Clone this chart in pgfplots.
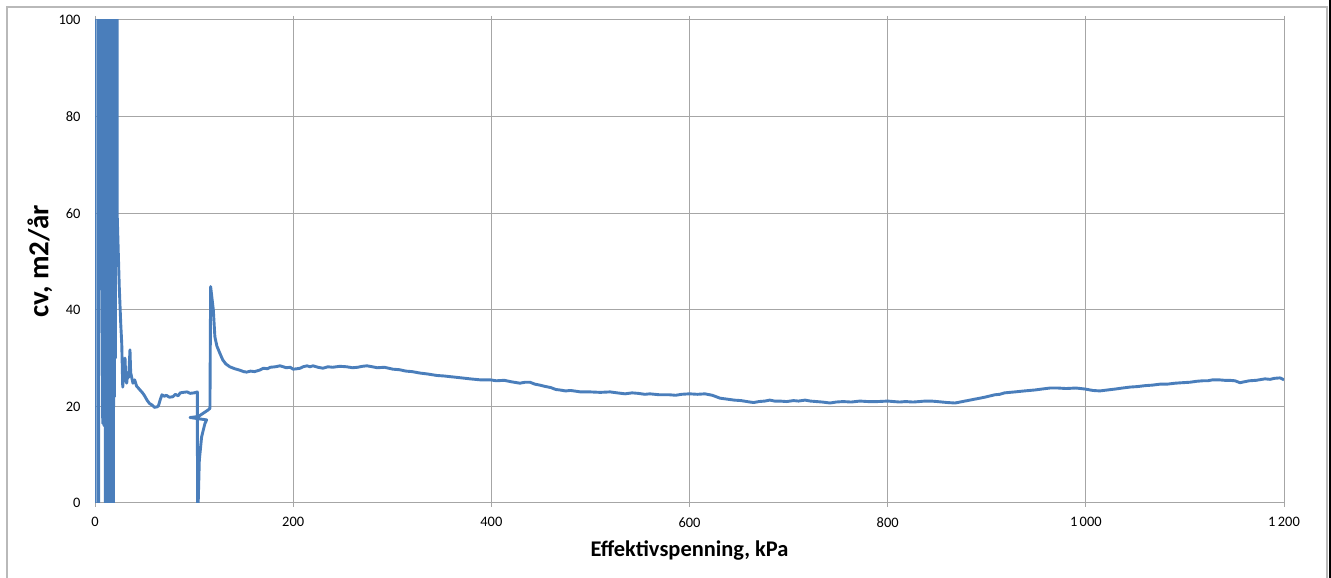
\documentclass[border=0pt]{standalone}
\usepackage{fontspec}
\setmainfont{Carlito}
\usepackage{pgfplots}
\pgfplotsset{compat=1.18}
\definecolor{exblue}{HTML}{4A7EBB}
\definecolor{gridgray}{HTML}{A6A6A6}
\begin{document}
\begin{tikzpicture}[x=1bp,y=1bp]
\useasboundingbox (0,0) rectangle (1331,578);
\fill[white] (0,0) rectangle (1331,578);
\draw[gray!55, line width=1.2bp] (7,0) -- (7,571) -- (1327,571) -- (1327,0);
\fill[black] (1329,0) rectangle (1331,578);
\begin{axis}[
  at={(95bp,75bp)}, anchor=south west,
  scale only axis, width=1189bp, height=483bp,
  xmin=0, xmax=1200, ymin=0, ymax=100,
  xtick={0,200,400,600,800,1000,1200},
  xticklabels={0,200,400,600,800,1\,000,1\,200},
  ytick={0,20,40,60,80,100},
  yticklabels={0,20,40,60,80,100},
  grid=major,
  major grid style={gridgray, line width=1bp},
  axis line style={gridgray, line width=1bp},
  tick align=outside,
  major tick length=4bp,
  xtick style={gridgray, line width=1bp},
  ytick style={draw=none},
  tick label style={font=\fontsize{14.5}{15}\selectfont, text=black},
  xticklabel style={yshift=-7bp},
  yticklabel style={xshift=-7bp},
  xlabel={Effektivspenning, kPa},
  ylabel={cv, m2/år},
  xlabel style={font=\bfseries\fontsize{22.5}{23}\selectfont, at={(axis description cs:0.5,-0.099)}, anchor=center},
  ylabel style={font=\bfseries\fontsize{29}{30}\selectfont, at={(axis description cs:-0.0463,0.5)}, anchor=center},
  clip=true,
]
\addplot[exblue, line width=2.9bp, line join=round] coordinates {
(0.1,400) (0.3,-100) (3.6,-100) (3.8,400) (5.5,400) (6.5,62) (7.8,16.5) (8.5,37) (9.2,16)
(10.0,400) (10.5,-100) (11.1,400) (11.6,15) (12.1,400) (12.6,-100) (13.1,400) (13.6,18)
(14.1,400) (14.6,-100) (15.1,400) (15.6,17) (16.1,400) (16.6,-100) (17.1,400) (17.6,20)
(18.1,400) (18.6,-100) (19.1,400) (19.6,22) (20.1,400) (20.6,30) (21.2,400)
(22.5,59) (24.5,44.7) (26,37) (27,33) (28,24) (29.5,28) (30.3,30) (31,26) (32,24.8)
(33,27) (34,26) (35.3,31.7) (36,27) (38.3,24.8) (40,25.5) (42,24.2) (45.4,23.4)
(48,22.8) (50,22.2) (52.5,21.3) (55,20.6) (57.5,20.3) (60,19.8) (62.6,19.9) (64,20.1)
(66,21.5) (67.6,22.4) (70,22.1) (72,22.3) (75,21.9) (78.7,22.0) (81,22.5) (84,22.2)
(86,22.8) (89,22.9) (92.9,23.0) (96,22.7) (100,22.8) (103.3,23.0)
(103.5,-5) (105.3,8.9) (107.6,13.7) (111,16.5) (112.7,17.2) (95.9,17.7) (104.3,17.9)
(114.4,19.3) (116,19.6) (116.7,44.8) (119.4,40) (121,34.4) (123,32.5) (126,31)
(129,29.6) (132,28.8) (136,28.2) (141,27.8) (146,27.5) (150,27.2) (153,27.1) (157,27.3) (161,27.2)
(166,27.5) (170,27.9) (174,27.8) (177,28.1) (182,28.2) (186.7,28.4) (190,28.2) (193,28.0) (197,28.1) (200,27.7)
(204,27.8) (207,27.9) (210,28.2) (214,28.4) (217,28.2) (220,28.4) (225,28.1) (230,27.9) (235,28.2) (240,28.1) (247,28.3) (254,28.2) (260,28.0) (265,28.1)
(270,28.3) (274.5,28.4) (280,28.2) (285,28.0) (292,28.1) (300.8,27.7) (307,27.6) (314,27.3) (320,27.2) (328,26.9) (336,26.7) (345,26.4) (352,26.3) (361,26.1)
(370,25.9) (378.5,25.7) (388.6,25.5) (398.7,25.5) (405,25.3) (413,25.4) (420,25.1) (428.9,24.8) (434,25.0) (439,25.0) (444,24.6) (449,24.4)
(455,24.1) (460,23.9) (465,23.5) (469,23.4) (475,23.2) (480,23.3) (490,23.0) (499.6,23.0) (510,22.9) (519.8,23.0) (527,22.8) (535,22.6)
(542,22.8) (548,22.7) (555,22.5) (560,22.6) (570,22.4) (580,22.4) (586,22.3) (592,22.5) (600,22.6) (608,22.5) (615.6,22.6)
(623,22.3) (630.8,21.7) (638,21.5) (645,21.3) (652,21.2) (661,20.9) (665,20.8) (670,21.0) (676,21.1) (681,21.3) (686,21.1) (691,21.1)
(698,21.0) (705,21.2) (710,21.1) (716.6,21.3) (722,21.1) (728,21.0) (734,20.9) (741.8,20.7) (748,20.9) (755,21.0) (763,20.9) (772,21.1) (780,21.0) (790,21.0)
(800,21.1) (806,21.0) (812,20.9) (818,21.0) (825.6,20.9) (832,21.0) (837.7,21.1) (844,21.1) (850,21.0) (855,20.9) (860,20.8) (868,20.7)
(873,20.9) (878,21.1) (883,21.3) (888,21.5) (898,21.9) (908,22.4) (913,22.5) (918,22.8) (928.5,23.0) (938,23.2)
(948.7,23.4) (956,23.6) (963.8,23.8) (972,23.8) (980,23.7) (990,23.8) (999,23.6) (1007,23.3) (1014,23.2)
(1022,23.4) (1030,23.6) (1037,23.8) (1044.6,24.0) (1052,24.1) (1060,24.3) (1067,24.4) (1074.9,24.6) (1082,24.6) (1090,24.8) (1097,24.9) (1105,25.0)
(1112,25.2) (1118,25.3) (1123,25.3) (1128,25.5) (1134,25.5) (1140,25.4) (1145,25.4) (1150.5,25.3) (1155.6,24.9) (1160,25.1) (1165,25.3) (1172,25.4)
(1180.8,25.7) (1186,25.6) (1190,25.8) (1196,25.9) (1200,25.5)
};
\end{axis}
\end{tikzpicture}
\end{document}
